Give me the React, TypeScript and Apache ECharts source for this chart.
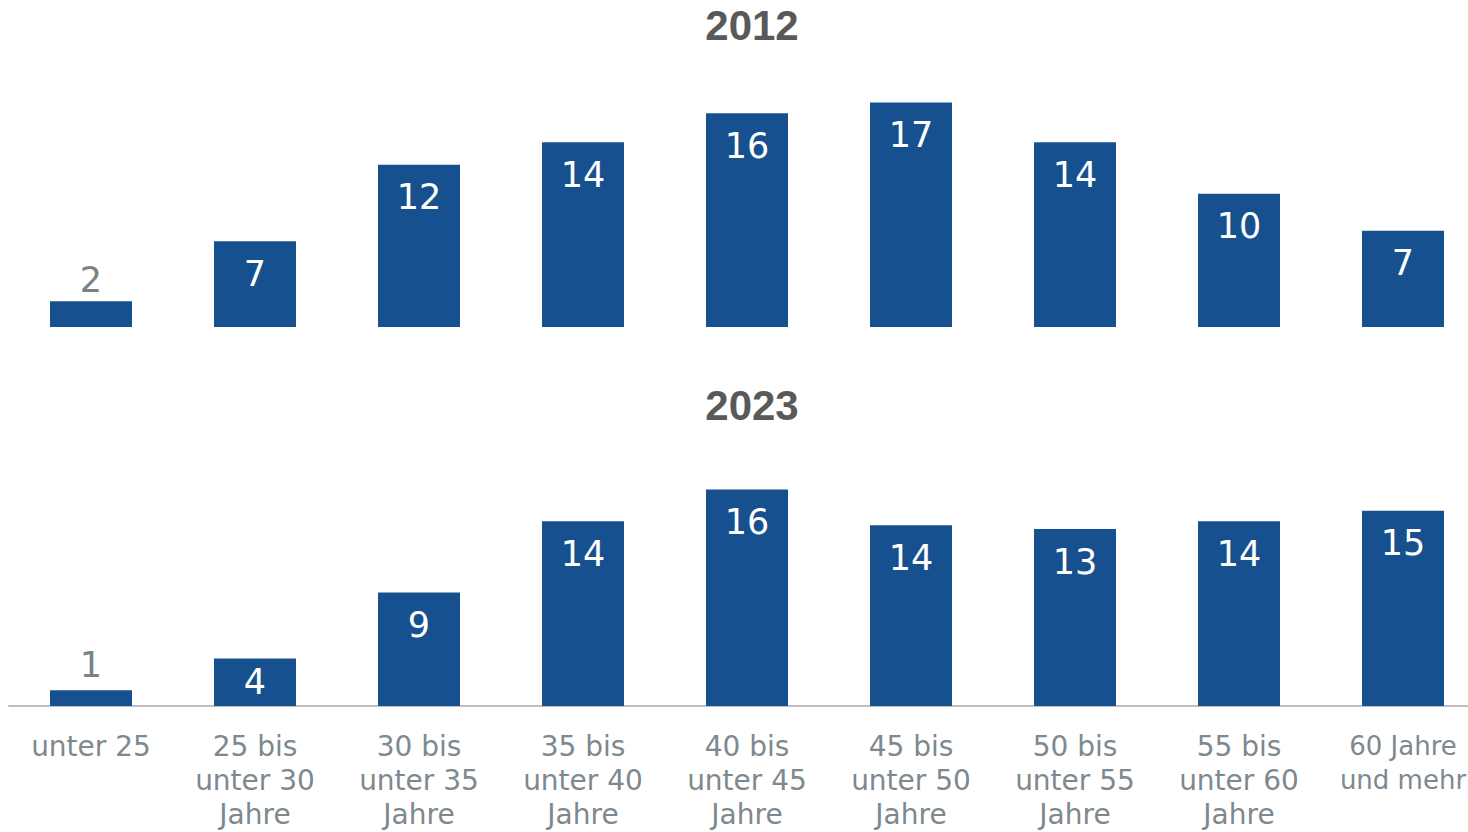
import React, { useEffect, useRef } from "react";
import * as echarts from "echarts";

const categories = [
  "unter 25",
  "25 bis\nunter 30\nJahre",
  "30 bis\nunter 35\nJahre",
  "35 bis\nunter 40\nJahre",
  "40 bis\nunter 45\nJahre",
  "45 bis\nunter 50\nJahre",
  "50 bis\nunter 55\nJahre",
  "55 bis\nunter 60\nJahre",
  "60 Jahre\nund mehr",
];
const values2012 = [1.95, 6.5, 12.3, 14.0, 16.2, 17.0, 14.0, 10.1, 7.3];
const values2023 = [1.2, 3.6, 8.6, 14.0, 16.4, 13.7, 13.4, 14.0, 14.8];
const titles = ["2012", "2023"];

const BAR = "#17508F";
const GRAY_LABEL = "#76838A";
const AXIS_TEXT = "#7D898F";
const TITLE = "#595959";
const FONT = "'DejaVu Sans', sans-serif";

function buildData(vals: number[]) {
  return vals.map((v) => {
    if (v < 3) {
      return {
        value: v,
        label: { position: "top", color: GRAY_LABEL, distance: v < 1.5 ? 8 : 4 },
      };
    }
    if (v < 5) {
      return { value: v, label: { position: "inside", color: "#fff" } };
    }
    return {
      value: v,
      label: { position: "insideTop", color: "#fff", distance: 15 },
    };
  });
}

export default function App() {
  const ref = useRef<HTMLDivElement>(null);
  useEffect(() => {
    if (!ref.current) return;
    const chart = echarts.init(ref.current, undefined, { renderer: "svg" });
    const scale = 13.2;
    const ymax = 18;
    const h = ymax * scale;
    const base1 = 327;
    const base2 = 706;
    const gridLeft = 9;
    const gridWidth = 164 * categories.length;
    const label = {
      show: true,
      fontFamily: FONT,
      fontSize: 35,
      formatter: (p: any) => String(Math.round(p.value)),
    };
    const catData = categories.map((c, i) =>
      i === categories.length - 1
        ? { value: c, textStyle: { fontSize: 26 } }
        : c
    );
    chart.setOption({
      animation: false,
      graphic: [
        {
          type: "text",
          x: 752,
          y: 25,
          style: {
            text: titles[0],
            font: "bold 42px 'Liberation Sans', sans-serif",
            fill: TITLE,
            textAlign: "center",
            textVerticalAlign: "middle",
          },
        },
        {
          type: "text",
          x: 752,
          y: 405,
          style: {
            text: titles[1],
            font: "bold 42px 'Liberation Sans', sans-serif",
            fill: TITLE,
            textAlign: "center",
            textVerticalAlign: "middle",
          },
        },
      ],
      grid: [
        {
          left: gridLeft,
          width: gridWidth,
          top: base1 - h,
          height: h,
          outerBoundsMode: "none",
          containLabel: false,
        },
        {
          left: gridLeft,
          width: gridWidth,
          top: base2 - h,
          height: h,
          outerBoundsMode: "none",
          containLabel: false,
        },
      ],
      xAxis: [
        {
          type: "category",
          gridIndex: 0,
          data: categories,
          axisLine: { show: false },
          axisTick: { show: false },
          axisLabel: { show: false },
        },
        {
          type: "category",
          gridIndex: 1,
          data: catData,
          axisLine: { show: true, lineStyle: { color: "#BFBFBF", width: 2 } },
          axisTick: { show: false },
          axisLabel: {
            interval: 0,
            color: AXIS_TEXT,
            fontFamily: FONT,
            fontSize: 28,
            lineHeight: 34,
            margin: 23,
          },
        },
      ],
      yAxis: [
        { type: "value", gridIndex: 0, min: 0, max: ymax, show: false },
        { type: "value", gridIndex: 1, min: 0, max: ymax, show: false },
      ],
      series: [
        {
          type: "bar",
          xAxisIndex: 0,
          yAxisIndex: 0,
          data: buildData(values2012),
          barWidth: "50%",
          itemStyle: { color: BAR },
          label,
        },
        {
          type: "bar",
          xAxisIndex: 1,
          yAxisIndex: 1,
          data: buildData(values2023),
          barWidth: "50%",
          itemStyle: { color: BAR },
          label,
        },
      ],
    });
    return () => chart.dispose();
  }, []);
  return (
    <div
      style={{
        position: "absolute",
        left: 0,
        top: 0,
        width: 1468,
        height: 832,
        overflow: "hidden",
        background: "#fff",
      }}
    >
      <div ref={ref} style={{ width: 1500, height: 832 }} />
    </div>
  );
}
